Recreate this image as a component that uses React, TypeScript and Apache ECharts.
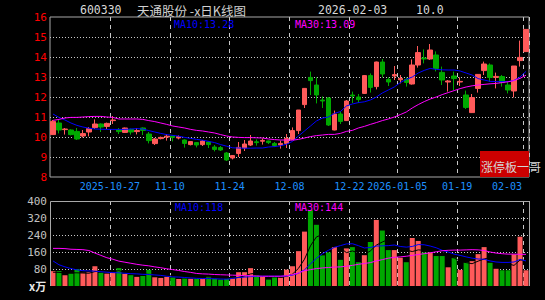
import React, { useEffect, useRef } from 'react';
import * as echarts from 'echarts';

const DATES = [
  '2025-10-13','2025-10-14','2025-10-15','2025-10-16','2025-10-17','2025-10-20','2025-10-21','2025-10-22','2025-10-23','2025-10-24',
  '2025-10-27','2025-10-28','2025-10-29','2025-10-30','2025-10-31','2025-11-03','2025-11-04','2025-11-05','2025-11-06','2025-11-07',
  '2025-11-10','2025-11-11','2025-11-12','2025-11-13','2025-11-14','2025-11-17','2025-11-18','2025-11-19','2025-11-20','2025-11-21',
  '2025-11-24','2025-11-25','2025-11-26','2025-11-27','2025-11-28','2025-12-01','2025-12-02','2025-12-03','2025-12-04','2025-12-05',
  '2025-12-08','2025-12-09','2025-12-10','2025-12-11','2025-12-12','2025-12-15','2025-12-16','2025-12-17','2025-12-18','2025-12-19',
  '2025-12-22','2025-12-23','2025-12-24','2025-12-25','2025-12-26','2025-12-29','2025-12-30','2025-12-31','2026-01-05','2026-01-06',
  '2026-01-07','2026-01-08','2026-01-09','2026-01-12','2026-01-13','2026-01-14','2026-01-15','2026-01-16','2026-01-19','2026-01-20',
  '2026-01-21','2026-01-22','2026-01-23','2026-01-26','2026-01-27','2026-01-28','2026-01-29','2026-01-30','2026-02-02','2026-02-03',
];

const OPEN = [
  10.12,10.70,10.37,10.35,10.28,10.05,10.25,10.47,10.65,10.53,
  10.82,10.37,10.23,10.38,10.27,10.45,10.15,9.67,9.92,10.00,
  10.05,9.95,9.85,9.62,9.72,9.62,9.75,9.50,9.47,9.20,
  8.95,9.18,9.45,9.60,9.76,9.79,9.80,9.68,9.60,9.68,
  9.88,10.32,11.62,12.98,12.60,11.85,11.95,10.35,11.15,10.82,
  12.10,12.00,12.18,13.07,12.52,13.75,12.88,13.05,12.86,12.88,
  12.65,13.60,13.95,13.90,14.10,13.23,12.75,13.05,12.75,12.10,
  11.22,12.43,13.32,13.60,12.98,13.02,12.60,12.30,13.82,14.27,
];
const HIGH = [
  10.85,10.85,10.45,10.38,10.45,10.35,10.50,10.88,10.68,10.72,
  11.05,10.45,10.47,10.42,10.45,10.48,10.25,9.95,10.02,10.15,
  10.08,10.08,9.88,9.80,9.75,9.85,9.80,9.60,9.55,9.25,
  9.10,9.75,9.85,10.10,9.88,9.93,9.82,9.75,9.82,10.15,
  10.48,11.35,12.45,13.27,12.98,12.03,12.00,11.32,11.27,11.85,
  12.27,12.15,13.10,13.18,13.77,13.90,12.98,13.55,13.10,12.98,
  13.88,14.55,14.38,14.65,14.28,13.52,12.85,13.27,12.98,12.32,
  12.15,13.15,13.77,13.68,13.22,13.10,12.77,13.55,14.82,15.38,
];
const LOW = [
  10.10,10.18,10.12,10.08,9.85,9.98,10.03,10.40,10.25,10.40,
  10.65,10.15,10.20,10.12,10.13,10.10,9.68,9.60,9.88,9.82,
  9.78,9.88,9.47,9.58,9.48,9.55,9.45,9.28,9.30,8.80,
  8.88,9.00,9.30,9.55,9.57,9.62,9.65,9.50,9.42,9.45,
  9.85,10.15,11.45,12.10,11.68,11.45,10.55,10.33,10.65,10.80,
  11.70,11.70,12.15,12.22,12.38,12.98,12.55,12.85,12.68,12.52,
  12.62,13.47,13.68,13.85,13.28,12.60,12.27,12.35,12.55,11.40,
  11.20,12.22,13.10,12.77,12.43,12.52,12.18,11.98,13.52,14.25,
];
const CLOSE = [
  10.78,10.35,10.40,10.12,9.90,10.17,10.42,10.65,10.50,10.68,
  10.85,10.27,10.45,10.25,10.32,10.33,9.82,9.90,9.98,10.04,
  9.98,10.02,9.68,9.77,9.60,9.80,9.62,9.38,9.35,8.85,
  9.07,9.48,9.65,9.80,9.72,9.83,9.72,9.57,9.68,9.93,
  10.32,11.35,12.43,12.82,12.10,11.80,10.60,11.15,10.78,11.80,
  12.05,11.87,13.07,12.48,13.75,13.15,12.75,13.12,12.93,12.73,
  13.60,14.22,13.90,14.35,13.43,12.85,12.80,12.92,12.78,11.48,
  11.97,13.13,13.65,12.98,13.03,12.72,12.35,13.55,13.98,15.38,
];

const MA10 = [
  11.15,10.98,10.85,10.70,10.58,10.50,10.44,10.40,10.39,10.38,
  10.38,10.38,10.38,10.40,10.42,10.40,10.32,10.25,10.18,10.12,
  10.08,10.04,9.98,9.93,9.88,9.84,9.78,9.72,9.62,9.54,
  9.46,9.45,9.44,9.44,9.45,9.45,9.50,9.52,9.56,9.64,
  9.78,10.05,10.30,10.55,10.80,10.95,11.00,11.18,11.27,11.55,
  11.65,11.72,11.76,11.85,12.00,12.20,12.35,12.50,12.72,12.88,
  13.00,13.20,13.33,13.43,13.38,13.36,13.35,13.35,13.30,13.20,
  13.10,12.92,12.85,12.78,12.77,12.77,12.77,12.83,13.00,13.28,
];
const MA30 = [
  10.83,10.88,10.95,10.98,10.98,11.00,11.02,11.03,11.03,11.00,
  10.98,10.90,10.90,10.90,10.90,10.88,10.82,10.77,10.70,10.63,
  10.55,10.50,10.45,10.38,10.33,10.30,10.25,10.20,10.12,10.05,
  10.00,9.98,9.97,9.97,9.96,9.95,9.90,9.87,9.85,9.85,
  9.84,9.88,9.95,10.02,10.07,10.10,10.13,10.13,10.18,10.28,
  10.33,10.45,10.53,10.63,10.72,10.82,10.90,11.00,11.12,11.25,
  11.45,11.62,11.77,11.90,12.00,12.12,12.22,12.32,12.42,12.50,
  12.56,12.60,12.63,12.66,12.68,12.72,12.76,12.82,12.93,13.09,
];

const VOLUME = [
  70,70,51,58,80,62,65,93,62,58,
  62,84,57,51,43,47,76,41,38,43,
  40,33,36,35,35,35,43,35,30,35,
  38,65,65,84,49,43,30,40,40,77,
  93,164,256,356,288,144,158,183,123,177,
  183,112,145,207,311,261,169,169,133,112,
  226,212,158,158,141,141,88,133,76,111,
  117,150,183,109,81,74,74,149,232,74,
];
const VOL_MA5 = [
  65,64,62,62,62,61,60,68,69,68,
  68,72,65,62,59,56,55,52,49,49,
  48,39,38,37,36,35,37,37,36,36,
  36,41,47,57,60,61,54,49,40,46,
  56,83,126,189,231,242,240,226,179,157,
  165,156,148,165,192,207,219,223,209,169,
  162,170,168,173,179,162,137,132,116,110,
  105,117,127,134,128,119,104,97,122,121,
];
const VOL_MA10 = [
  118,100,90,82,76,72,71,70,67,65,
  63,62,60,58,57,55,54,52,50,46,
  43,42,40,38,36,35,35,34,33,32,
  36,40,42,44,45,46,46,46,46,47,
  51,60,76,104,130,152,168,182,190,198,
  199,190,179,181,188,189,190,193,186,183,
  186,195,194,188,180,168,160,150,144,137,
  131,127,126,118,113,111,111,113,125,118,
];
const VOL_MA30 = [
  177,177,176,173,172,171,167,155,144,133,
  126,117,112,107,102,98,95,90,86,81,
  77,73,68,64,59,57,56,54,53,52,
  51,50,49,48,47,46,46,46,46,48,
  54,61,72,77,82,85,87,89,90,93,
  97,102,106,110,118,124,131,135,137,140,
  144,148,152,156,161,166,168,169,169,170,
  171,170,167,160,155,152,150,150,149,149,
];

const LABEL_IDX = [10, 20, 30, 40, 50, 58, 68, 79];
const LABEL_TEXT = ['2025-10-27', '11-10', '11-24', '12-08', '12-22', '2026-01-05', '01-19', '02-03'];

const RED = '#ff5a5a';
const GREEN = '#00a800';
const BLUE = '#0000ff';
const MAGENTA = '#ff00ff';
const GRIDC = '#c8c8c8';
const BORDER = '#a8a8a8';
const MONO = '"DejaVu Sans Mono", monospace';
const CJK = '"Noto Sans CJK SC", sans-serif';
const T = 'rgba(0,0,0,0)';

export default function App() {
  const ref = useRef<HTMLDivElement>(null);
  useEffect(() => {
    if (!ref.current) return;
    const chart = echarts.init(ref.current, undefined, { renderer: 'svg' });
    const showAt = (i: number) => LABEL_IDX.indexOf(i) >= 0;
    const candles = OPEN.map((o, i) => [o, CLOSE[i], LOW[i], HIGH[i]]);
    const vSplit = { show: true, interval: (i: number) => showAt(i), lineStyle: { color: GRIDC, type: [4, 4], width: 1 } };
    const lineS = (name: string, data: number[], color: string, x: number, y: number, z: number) => ({
      name, type: 'line', data, xAxisIndex: x, yAxisIndex: y, symbol: 'none', showSymbol: false, silent: true, z,
      lineStyle: { color, width: 1 }, itemStyle: { color },
    });
    const txt = (text: string, x: number, y: number, fill: string, font: string) => ({
      type: 'text', x, y, silent: true, z: 100,
      style: { text, fill, font, verticalAlign: 'middle', textAlign: 'left' },
    });
    const option: any = {
      animation: false,
      backgroundColor: '#000000',
      grid: [
        { left: 50, right: 16, top: 17, height: 160, show: true, borderColor: BORDER, borderWidth: 1, backgroundColor: T },
        { left: 50, right: 16, top: 201, height: 85, show: false },
      ],
      xAxis: [
        {
          type: 'category', gridIndex: 0, data: DATES, boundaryGap: true,
          axisLine: { show: false }, axisTick: { show: false },
          axisLabel: {
            interval: (i: number) => showAt(i),
            margin: 4,
            formatter: (_v: string, i: number) => {
              const k = LABEL_IDX.indexOf(i);
              if (k < 0) return '';
              return (i === 79 ? '{b|' : '{a|') + LABEL_TEXT[k] + '}';
            },
            rich: {
              a: { color: '#1e90ff', fontFamily: MONO, fontSize: 10, padding: [0, 6, 0, 0] },
              b: { color: '#1e90ff', fontFamily: MONO, fontSize: 10, padding: [0, 38, 0, 0] },
            },
          },
          splitLine: vSplit,
        },
        {
          type: 'category', gridIndex: 1, data: DATES, boundaryGap: true,
          axisLine: { show: false }, axisTick: { show: false }, axisLabel: { show: false },
          splitLine: vSplit,
        },
      ],
      yAxis: [
        {
          type: 'value', gridIndex: 0, min: 8, max: 16, interval: 1,
          axisLine: { show: false }, axisTick: { show: false },
          axisLabel: { color: '#ff0000', fontFamily: MONO, fontSize: 11, margin: 3 },
          splitLine: { show: true, lineStyle: { color: [T, GRIDC, GRIDC, GRIDC, GRIDC, GRIDC, GRIDC, GRIDC, T], type: [1, 2], width: 1 } },
        },
        {
          type: 'value', gridIndex: 1, min: 0, max: 400, interval: 80,
          axisLine: { show: false }, axisTick: { show: false },
          axisLabel: { color: '#c0c0c0', fontFamily: MONO, fontSize: 11, margin: 3, formatter: (v: number) => (v === 0 ? '' : String(v)) },
          splitLine: { show: true, lineStyle: { color: [T, GRIDC, GRIDC, GRIDC, GRIDC, T], type: [1, 2], width: 1 } },
        },
      ],
      series: [
        {
          name: 'K', type: 'candlestick', data: candles, xAxisIndex: 0, yAxisIndex: 0, barWidth: 5, silent: true, z: 2,
          itemStyle: { color: RED, color0: GREEN, borderColor: RED, borderColor0: GREEN, borderWidth: 1 },
        },
        lineS('MA10', MA10, BLUE, 0, 0, 4),
        lineS('MA30', MA30, MAGENTA, 0, 0, 4),
        {
          name: 'VOL', type: 'bar', data: VOLUME, xAxisIndex: 1, yAxisIndex: 1, barWidth: 5, silent: true, z: 2,
          itemStyle: { color: (p: any) => (CLOSE[p.dataIndex] >= OPEN[p.dataIndex] ? RED : GREEN) },
        },
        lineS('VMA5', VOL_MA5, '#000000', 1, 1, 3),
        lineS('VMA10', VOL_MA10, BLUE, 1, 1, 4),
        lineS('VMA30', VOL_MA30, MAGENTA, 1, 1, 4),
      ],
      graphic: [
        { type: 'polyline', silent: true, z: 50, shape: { points: [[50.5, 286], [50.5, 201.5], [529.5, 201.5], [529.5, 286]] }, style: { stroke: BORDER, lineWidth: 1, fill: null } },
        { type: 'rect', silent: true, z: 60, shape: { x: 480, y: 151, width: 49, height: 26 }, style: { fill: '#cc0000' } },
        txt('涨停板一哥', 481, 166, '#d4d4d4', '12px ' + CJK),
        txt('600330', 80, 10, '#d8d8d8', '11.5px ' + MONO),
        txt('天通股份 -x日K线图', 137, 10, '#d0d0d0', '12.5px ' + CJK),
        txt('2026-02-03', 318, 10, '#d8d8d8', '11.5px ' + MONO),
        txt('10.0', 416, 10, '#d8d8d8', '11.5px ' + MONO),
        txt('MA10:13.28', 174, 24, BLUE, '10px ' + MONO),
        txt('MA30:13.09', 295, 24, MAGENTA, '10px ' + MONO),
        txt('MA10:118', 175, 207, BLUE, '10px ' + MONO),
        txt('MA30:144', 295, 207, MAGENTA, '10px ' + MONO),
        txt('x万', 29, 286, '#e8e8e8', 'bold 11px ' + CJK),
      ],
    };
    chart.setOption(option);
    return () => chart.dispose();
  }, []);
  return (
    <div style={{ position: 'fixed', left: 0, top: 0, width: 545, height: 300, background: '#000' }}>
      <div ref={ref} style={{ width: 545, height: 300 }} />
    </div>
  );
}
